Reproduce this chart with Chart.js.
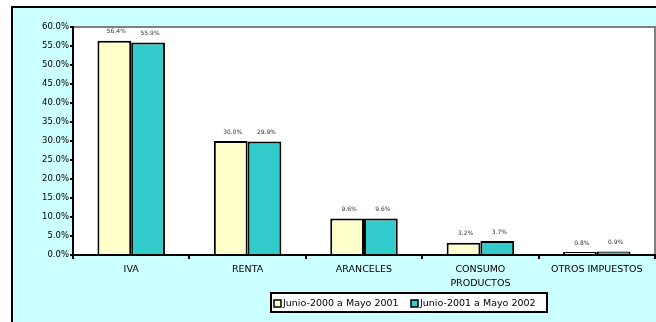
<!DOCTYPE html>
<html>
<head>
<meta charset="utf-8">
<script src="https://cdn.jsdelivr.net/npm/chart.js@4.4.1/dist/chart.umd.min.js"></script>
<style>
  html, body { margin: 0; padding: 0; background: #ffffff; }
  #wrap { width: 656px; height: 322px; }
</style>
</head>
<body>
<div id="wrap"><canvas id="impuestos" width="656" height="322"></canvas></div>
<script>
// categorias y series (% de la recaudacion)
const categorias = ['IVA', 'RENTA', 'ARANCELES', ['CONSUMO', 'PRODUCTOS'], 'OTROS IMPUESTOS'];
const periodos = ['Junio-2000 a Mayo 2001', 'Junio-2001 a Mayo 2002'];
const periodo1 = [56.4, 30.0, 9.6, 3.2, 0.8];
const periodo2 = [55.9, 29.9, 9.6, 3.7, 0.9];
const ticksY = [0, 5, 10, 15, 20, 25, 30, 35, 40, 45, 50, 55, 60];

const colores = ['#FFFFCC', '#33CCCC'];
const fuente = '"DejaVu Sans", Arial, sans-serif';

// fondo celeste con marco negro, y borde gris del area de trazado
const fondo = {
    id: 'fondo',
    beforeDraw(chart) {
        const ctx = chart.ctx;
        const a = chart.chartArea;
        ctx.save();
        ctx.fillStyle = '#CCFFFF';
        ctx.fillRect(11, 6, chart.width - 11, chart.height - 6);
        ctx.strokeStyle = '#000';
        ctx.lineWidth = 2;
        ctx.beginPath();
        ctx.moveTo(12, chart.height);
        ctx.lineTo(12, 7);
        ctx.lineTo(chart.width, 7);
        ctx.stroke();
        ctx.fillStyle = '#fff';
        ctx.fillRect(a.left, a.top, a.right - a.left, a.bottom - a.top);
        ctx.strokeStyle = '#808080';
        ctx.lineWidth = 2;
        ctx.beginPath();
        ctx.moveTo(a.left, a.top);
        ctx.lineTo(a.right, a.top);
        ctx.lineTo(a.right, a.bottom);
        ctx.stroke();
        ctx.restore();
    }
};

// etiquetas de valor sobre cada barra
const etiquetas = {
    id: 'etiquetas',
    afterDatasetsDraw(chart) {
        const ctx = chart.ctx;
        ctx.save();
        ctx.font = '6px ' + fuente;
        ctx.fillStyle = '#333';
        ctx.textAlign = 'center';
        ctx.textBaseline = 'bottom';
        chart.data.datasets.forEach((ds, i) => {
            chart.getDatasetMeta(i).data.forEach((bar, j) => {
                ctx.fillText(ds.data[j].toFixed(1) + '%', bar.x + 2, bar.y - 6);
            });
        });
        ctx.restore();
    }
};

// leyenda con recuadro
const leyenda = {
    id: 'leyenda',
    afterDraw(chart) {
        const ctx = chart.ctx;
        const x0 = 271, y0 = 293, w = 276, h = 19;
        ctx.save();
        ctx.fillStyle = '#fff';
        ctx.fillRect(x0, y0, w, h);
        ctx.strokeStyle = '#000';
        ctx.lineWidth = 2;
        ctx.strokeRect(x0, y0, w, h);
        ctx.font = '9.5px ' + fuente;
        ctx.textBaseline = 'middle';
        const posiciones = [274, 411];
        chart.data.datasets.forEach((ds, i) => {
            const x = posiciones[i];
            const yc = y0 + h / 2 + 1;
            ctx.fillStyle = ds.backgroundColor;
            ctx.fillRect(x, yc - 3.5, 7, 7);
            ctx.lineWidth = 1.5;
            ctx.strokeRect(x, yc - 3.5, 7, 7);
            ctx.fillStyle = '#000';
            ctx.fillText(ds.label, x + 9, yc);
        });
        ctx.restore();
    }
};

new Chart(document.getElementById('impuestos'), {
    type: 'bar',
    data: {
        labels: categorias,
        datasets: [
            { label: periodos[0], data: periodo1, backgroundColor: colores[0], borderColor: '#000', borderWidth: 2 },
            { label: periodos[1], data: periodo2, backgroundColor: colores[1], borderColor: '#000', borderWidth: 2 }
        ]
    },
    options: {
        responsive: false,
        animation: false,
        layout: { padding: { top: 27, right: 1, bottom: 27, left: 0 } },
        datasets: { bar: { categoryPercentage: 0.58, barPercentage: 1.0 } },
        plugins: {
            legend: { display: false },
            tooltip: { enabled: false }
        },
        scales: {
            x: {
                grid: { offset: true, drawOnChartArea: false, tickLength: 4, color: '#000', lineWidth: 2 },
                border: { color: '#000', width: 2 },
                ticks: {
                    color: '#000',
                    padding: 3,
                    maxRotation: 0,
                    autoSkip: false,
                    font: { family: fuente, size: 9.5, lineHeight: 1.5 }
                },
                afterFit(scale) { scale.height = 40; }
            },
            y: {
                min: 0,
                max: 60,
                afterBuildTicks(scale) { scale.ticks = ticksY.map(v => ({ value: v })); },
                grid: { drawOnChartArea: false, tickLength: 3, color: '#000', lineWidth: 2 },
                border: { color: '#000', width: 2 },
                ticks: {
                    color: '#000',
                    padding: 1,
                    font: { family: fuente, size: 8.5 },
                    callback: v => v.toFixed(1) + '%'
                },
                afterFit(scale) { scale.width = 73; }
            }
        }
    },
    plugins: [fondo, etiquetas, leyenda]
});
</script>
</body>
</html>
